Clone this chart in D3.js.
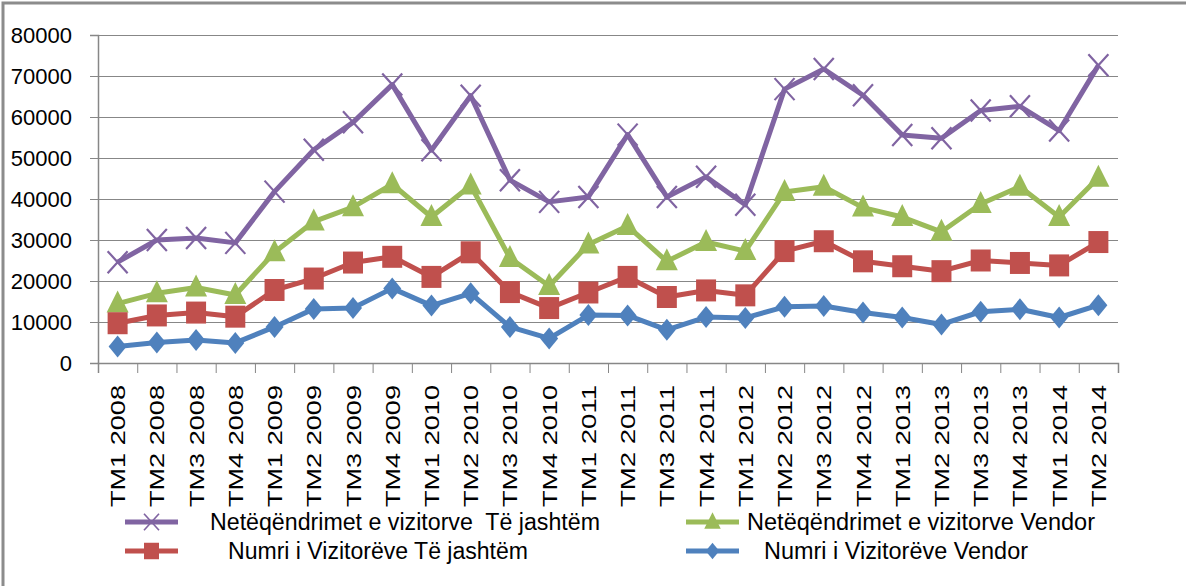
<!DOCTYPE html>
<html>
<head>
<meta charset="utf-8">
<script src="https://cdn.jsdelivr.net/npm/d3@7"></script>
<style>
  body { margin: 0; background: #fff; }
  svg { display: block; font-family: "Liberation Sans", Arial, sans-serif; }
</style>
</head>
<body>
<div class="chart"></div>
<script>
var svgWidth = 1186;
var svgHeight = 586;

// categories (quarters)
var quarters = ["TM1 2008", "TM2 2008", "TM3 2008", "TM4 2008",
    "TM1 2009", "TM2 2009", "TM3 2009", "TM4 2009",
    "TM1 2010", "TM2 2010", "TM3 2010", "TM4 2010",
    "TM1 2011", "TM2 2011", "TM3 2011", "TM4 2011",
    "TM1 2012", "TM2 2012", "TM3 2012", "TM4 2012",
    "TM1 2013", "TM2 2013", "TM3 2013", "TM4 2013",
    "TM1 2014", "TM2 2014"];

// series values
var netJashtem = [24600, 30000, 30500, 29300, 41800, 52000, 58700, 67900,
    51900, 65200, 44600, 39300, 40500, 55700, 40500, 45400,
    38600, 66800, 71700, 65300, 55600, 54800, 61600, 62600, 56700, 72600];
var netVendor = [14500, 17000, 18400, 16600, 27000, 34500, 38000, 43600,
    35600, 43300, 25600, 18800, 28900, 33400, 24800, 29500,
    27300, 41700, 43000, 37900, 35600, 32000, 38800, 43000, 35600, 45200];
var numJashtem = [9700, 11600, 12300, 11300, 17800, 20600, 24500, 25900,
    21000, 27000, 17300, 13400, 17200, 21000, 16100, 17700,
    16500, 27300, 29700, 24800, 23600, 22400, 25000, 24400, 23800, 29500];
var numVendor = [4000, 5000, 5600, 4900, 8800, 13200, 13400, 18200,
    14000, 17000, 8800, 6000, 11700, 11600, 8100, 11200,
    11000, 13700, 13900, 12300, 11100, 9400, 12500, 13100, 11100, 14100];

var seriesNames = ["Netëqëndrimet e vizitorve  Të jashtëm",
    "Netëqëndrimet e vizitorve Vendor",
    "Numri i Vizitorëve Të jashtëm",
    "Numri i Vizitorëve Vendor"];
var yTicks = [0, 10000, 20000, 30000, 40000, 50000, 60000, 70000, 80000];

var series = [
    { name: seriesNames[0], values: netJashtem, color: "#8064A2", marker: "x" },
    { name: seriesNames[1], values: netVendor, color: "#9BBB59", marker: "triangle" },
    { name: seriesNames[2], values: numJashtem, color: "#C0504D", marker: "square" },
    { name: seriesNames[3], values: numVendor, color: "#4F81BD", marker: "diamond" }
];

var plot = { left: 98, right: 1118, top: 35, bottom: 363 };

var svg = d3.select(".chart")
    .append("svg")
    .attr("width", svgWidth)
    .attr("height", svgHeight);

// outer frame
svg.append("rect")
    .attr("x", 3).attr("y", 3)
    .attr("width", 1230).attr("height", 640)
    .attr("fill", "none")
    .attr("stroke", "#8c8c8c")
    .attr("stroke-width", 3);

var xScale = d3.scaleBand()
    .domain(quarters)
    .range([plot.left, plot.right])
    .padding(0);

var xEdges = d3.scaleLinear()
    .domain([0, quarters.length])
    .range([plot.left, plot.right]);

var yScale = d3.scaleLinear()
    .domain([0, 80000])
    .range([plot.bottom, plot.top]);

// gridlines
svg.append("g")
    .attr("transform", `translate(${plot.left},0)`)
    .call(d3.axisLeft(yScale).tickValues(yTicks.slice(1))
        .tickSize(-(plot.right - plot.left)).tickFormat(""))
    .call(g => g.select(".domain").remove())
    .call(g => g.selectAll("line").attr("stroke", "#878787"));

// y axis
var yAxis = svg.append("g")
    .attr("transform", `translate(${plot.left},0)`)
    .call(d3.axisLeft(yScale).tickValues(yTicks).tickSize(8)
        .tickPadding(18).tickFormat(d3.format("d")));
yAxis.select(".domain").attr("stroke", "#878787").attr("stroke-width", 1.5);
yAxis.selectAll("line").attr("stroke", "#878787");
yAxis.selectAll("text")
    .attr("font-size", "22px")
    .attr("font-family", "Liberation Sans, Arial, sans-serif")
    .attr("fill", "#000");

// x axis: tick marks at category edges
var xAxis = svg.append("g")
    .attr("transform", `translate(0,${plot.bottom})`)
    .call(d3.axisBottom(xEdges).tickValues(d3.range(quarters.length + 1))
        .tickSize(10).tickFormat(""));
xAxis.select(".domain").attr("stroke", "#878787").attr("stroke-width", 1.5);
xAxis.selectAll("line").attr("stroke", "#878787");

// x labels (rotated)
svg.append("g").selectAll("text")
    .data(quarters)
    .enter()
    .append("text")
    .attr("transform", d => `translate(${xScale(d) + xScale.bandwidth() / 2}, 385) rotate(-90)`)
    .attr("text-anchor", "end")
    .attr("dy", "0.36em")
    .attr("font-size", "21px")
    .attr("textLength", 122)
    .attr("lengthAdjust", "spacingAndGlyphs")
    .attr("fill", "#000")
    .text(d => d);

// marker drawing
function drawMarker(g, type, color) {
    if (type === "x") {
        g.append("path")
            .attr("d", "M-10,-11L10,11M-10,11L10,-11")
            .attr("stroke", color)
            .attr("stroke-width", 2.2)
            .attr("fill", "none");
    } else if (type === "triangle") {
        g.append("path").attr("d", "M0,-13L11,9L-11,9Z").attr("fill", color);
    } else if (type === "square") {
        g.append("path").attr("d", "M-10,-11H10V11H-10Z").attr("fill", color);
    } else {
        g.append("path").attr("d", "M0,-11L9,0L0,11L-9,0Z").attr("fill", color);
    }
}

var line = d3.line()
    .x((d, i) => xScale(quarters[i]) + xScale.bandwidth() / 2)
    .y(d => yScale(d));

series.forEach(function (s) {
    var g = svg.append("g");
    g.append("path")
        .datum(s.values)
        .attr("d", line)
        .attr("fill", "none")
        .attr("stroke", s.color)
        .attr("stroke-width", 5)
        .attr("stroke-linejoin", "round");

    g.selectAll("g.marker")
        .data(s.values)
        .enter()
        .append("g")
        .attr("class", "marker")
        .attr("transform", (d, i) => `translate(${xScale(quarters[i]) + xScale.bandwidth() / 2},${yScale(d)})`)
        .each(function () { drawMarker(d3.select(this), s.marker, s.color); });
});

// legend
var legendItems = [
    { s: series[0], x: 125, y: 522, tx: 210, tw: 390 },
    { s: series[1], x: 686, y: 522, tx: 747, tw: 348 },
    { s: series[2], x: 125, y: 551, tx: 228, tw: 300 },
    { s: series[3], x: 686, y: 551, tx: 764, tw: 264 }
];

legendItems.forEach(function (it) {
    var g = svg.append("g");
    g.append("line")
        .attr("x1", it.x).attr("x2", it.x + 53)
        .attr("y1", it.y).attr("y2", it.y)
        .attr("stroke", it.s.color)
        .attr("stroke-width", 5);
    var m = g.append("g").attr("transform", `translate(${it.x + 26.5},${it.y}) scale(0.75)`);
    drawMarker(m, it.s.marker, it.s.color);
    g.append("text")
        .attr("x", it.tx)
        .attr("y", it.y)
        .attr("dy", "0.35em")
        .attr("font-size", "23px")
        .attr("textLength", it.tw)
        .attr("lengthAdjust", "spacingAndGlyphs")
        .attr("fill", "#000")
        .style("white-space", "pre")
        .text(it.s.name);
});
</script>
</body>
</html>
